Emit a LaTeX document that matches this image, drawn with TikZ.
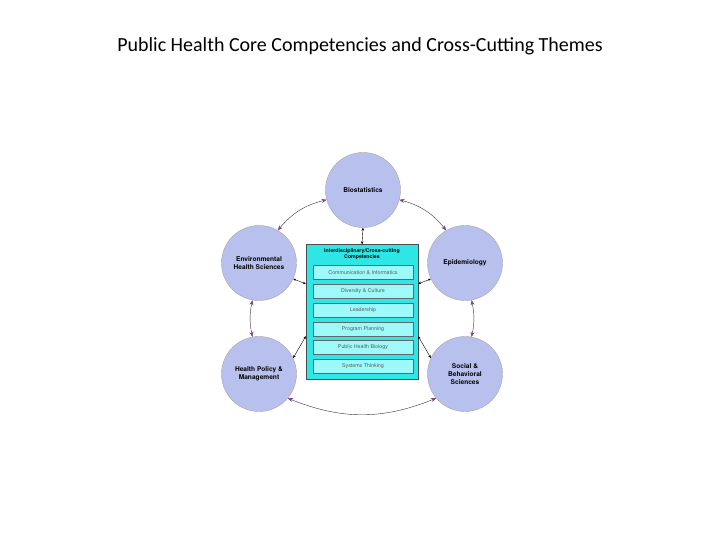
\documentclass[tikz,border=0pt]{standalone}
\usepackage{fontspec}
\setmainfont{Carlito}
\newfontfamily\gothic{TeX Gyre Heros}
\usetikzlibrary{arrows.meta}
\definecolor{circ}{HTML}{B8C0EE}
\definecolor{boxc}{HTML}{2EE6E6}
\definecolor{inner}{HTML}{9EFAFA}
\definecolor{tipc}{HTML}{7A3C8C}
\tikzset{
 comp/.style={circle,draw=gray!70,fill=circ,minimum size=75pt,inner sep=0pt,align=center,font=\gothic\bfseries\fontsize{6.6}{7.6}\selectfont},
 sub/.style={draw=gray!80!black,fill=inner,minimum width=100pt,minimum height=14pt,inner sep=0pt,font=\gothic\fontsize{5.3}{6}\selectfont,text=gray!70!black},
 curv/.style={draw=gray!40!black,line width=0.4pt,{Stealth[tipc,length=5pt,width=4pt]}-{Stealth[tipc,length=5pt,width=4pt]}},
 strt/.style={draw=black,line width=0.4pt,{Stealth[length=3pt,width=2.5pt]}-{Stealth[length=3pt,width=2.5pt]}}
}
\begin{document}
\begin{tikzpicture}[x=1pt,y=-1pt]
\useasboundingbox (0,0) rectangle (720,540);
\node (title) at (360,46) {\fontsize{20}{24}\selectfont Public Health Core Competencies and Cross-Cutting Themes};
\node[comp] (bio) at (363,190) {Biostatistics};
\node[comp] (env) at (259,263) {Environmental\\Health Sciences};
\node[comp] (epi) at (465,263) {Epidemiology};
\node[comp] (hpm) at (259,374) {Health Policy \&\\Management};
\node[comp] (soc) at (465,374) {Social \&\\Behavioral\\Sciences};
\node[draw=gray!60!black,fill=boxc,minimum width=112pt,minimum height=135pt,inner sep=0pt] (box) at (362,312) {};
\node[font=\gothic\bfseries\fontsize{5.2}{5.8}\selectfont,align=center] (head) at (362,254) {Interdisciplinary/Cross-cutting\\Competencies};
\node[sub] (s1) at (363,272.5) {Communication \& Informatics};
\node[sub] (s2) at (363,291) {Diversity \& Culture};
\node[sub] (s3) at (363,310) {Leadership};
\node[sub] (s4) at (363,329) {Program Planning};
\node[sub] (s5) at (363,347.5) {Public Health Biology};
\node[sub] (s6) at (363,366.5) {Systems Thinking};
\draw[curv] (bio.195) to[bend right=18] (env.60);
\draw[curv] (bio.-15) to[bend left=18] (epi.120);
\draw[curv] (env.-100) to[bend right=12] (hpm.100);
\draw[curv] (epi.-80) to[bend left=12] (soc.80);
\draw[curv] (hpm.-40) to[bend right=22] (soc.-140);
\draw[strt] (bio.-90) -- (box.north);
\draw[strt] (env.-25) -- (box.west|-s2.north);
\draw[strt] (epi.-155) -- (box.east|-s2.north);
\draw[strt] (hpm.25) -- (box.west|-s4.south);
\draw[strt] (soc.155) -- (box.east|-s4.south);
\end{tikzpicture}
\end{document}
